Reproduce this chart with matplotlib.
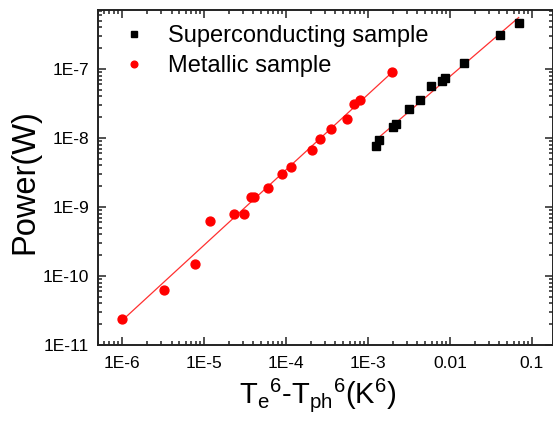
import numpy as np
import matplotlib
matplotlib.use("Agg")
import matplotlib.pyplot as plt
from matplotlib.ticker import LogLocator, NullFormatter, FixedLocator, FixedFormatter

plt.rcParams['font.family'] = ['Liberation Sans', 'DejaVu Sans']
plt.rcParams['mathtext.fontset'] = 'custom'
plt.rcParams['mathtext.rm'] = 'Liberation Sans'
plt.rcParams['mathtext.it'] = 'Liberation Sans:italic'
plt.rcParams['mathtext.default'] = 'regular'

# Superconducting sample: Te^6 - Tph^6 (K^6) vs power (W)
sc_x = [1.25e-3, 1.35e-3, 2.04e-3, 2.2e-3, 3.2e-3, 4.3e-3, 5.8e-3, 7.9e-3,
        8.8e-3, 1.47e-2, 4.1e-2, 6.9e-2]
sc_p = [7.7e-9, 9.5e-9, 1.43e-8, 1.6e-8, 2.65e-8, 3.5e-8, 5.7e-8, 6.8e-8,
        7.4e-8, 1.24e-7, 3.1e-7, 4.6e-7]

# Metallic sample
me_x = [1.0e-6, 3.2e-6, 7.8e-6, 1.17e-5, 2.3e-5, 3.1e-5, 3.7e-5, 4.1e-5,
        6.0e-5, 8.8e-5, 1.15e-4, 2.1e-4, 2.6e-4, 3.5e-4, 5.5e-4, 6.7e-4,
        7.9e-4, 1.95e-3]
me_p = [2.4e-11, 6.3e-11, 1.5e-10, 6.3e-10, 7.8e-10, 7.8e-10, 1.4e-9, 1.4e-9,
        1.9e-9, 3.0e-9, 3.8e-9, 6.6e-9, 9.8e-9, 1.35e-8, 1.9e-8, 3.1e-8,
        3.5e-8, 9.1e-8]

x_ticks = [1e-6, 1e-5, 1e-4, 1e-3, 1e-2, 1e-1]
x_labels = ['1E-6', '1E-5', '1E-4', '1E-3', '0.01', '0.1']
y_ticks = [1e-11, 1e-10, 1e-9, 1e-8, 1e-7]
y_labels = ['1E-11', '1E-10', '1E-9', '1E-8', '1E-7']


def loglog_fit(x, y):
    lx, ly = np.log10(x), np.log10(y)
    k, b = np.polyfit(lx, ly, 1)
    xs = np.logspace(lx.min(), lx.max(), 50)
    return xs, 10 ** (b + k * np.log10(xs))


W, H = 553, 422
L, R, T, B = 97.5, 553, 10, 345
fig = plt.figure(figsize=(W / 100, H / 100), dpi=100)
ax = fig.add_axes([L / W, (H - B) / H, (R - L) / W, (B - T) / H])

ax.set_xscale('log')
ax.set_yscale('log')

fx, fy = loglog_fit(np.array(me_x), np.array(me_p))
ax.plot(fx, fy, color='#ff3030', lw=0.9, zorder=2)
fx, fy = loglog_fit(np.array(sc_x), np.array(sc_p))
ax.plot(fx, fy, color='#ff3030', lw=0.9, zorder=2)

ax.plot(sc_x, sc_p, 's', color='black', ms=5.6, mec='black', ls='none',
        label='Superconducting sample', zorder=3)
ax.plot(me_x, me_p, 'o', color='#ff0000', ms=6.4, mec='#ff0000', ls='none',
        label='Metallic sample', zorder=3)

ax.set_xlim(5.0e-7, 0.181)
ax.set_ylim(1e-11, 7.16e-7)

ax.xaxis.set_major_locator(FixedLocator(x_ticks))
ax.xaxis.set_major_formatter(FixedFormatter(x_labels))
ax.yaxis.set_major_locator(FixedLocator(y_ticks))
ax.yaxis.set_major_formatter(FixedFormatter(y_labels))
ax.xaxis.set_minor_locator(LogLocator(base=10, subs=np.arange(2, 10), numticks=20))
ax.yaxis.set_minor_locator(LogLocator(base=10, subs=np.arange(2, 10), numticks=20))
ax.xaxis.set_minor_formatter(NullFormatter())
ax.yaxis.set_minor_formatter(NullFormatter())

ax.tick_params(which='both', direction='in', top=True, right=True,
               width=1.1, colors='#222222', labelcolor='black')
ax.tick_params(which='major', length=6, labelsize=12.5, pad=6)
ax.tick_params(axis='x', which='major', pad=8)
ax.tick_params(which='minor', length=3)
for s in ax.spines.values():
    s.set_linewidth(1.4)
    s.set_color('#222222')

ax.set_ylabel('Power(W)', fontsize=23.5)
ax.set_xlabel('T$_e$$^6$-T$_{ph}$$^6$(K$^6$)', fontsize=21)
ax.yaxis.set_label_coords(-0.126, 0.488)
ax.xaxis.set_label_coords(0.484, -0.094)

ax.legend(loc='upper left', bbox_to_anchor=(0.015, 1.0), frameon=False,
          fontsize=17, markerscale=0.75, handlelength=1.2, handletextpad=0.83,
          labelspacing=0.32, borderaxespad=0.4, borderpad=0.25)

fig.savefig('out.png', dpi=100)
